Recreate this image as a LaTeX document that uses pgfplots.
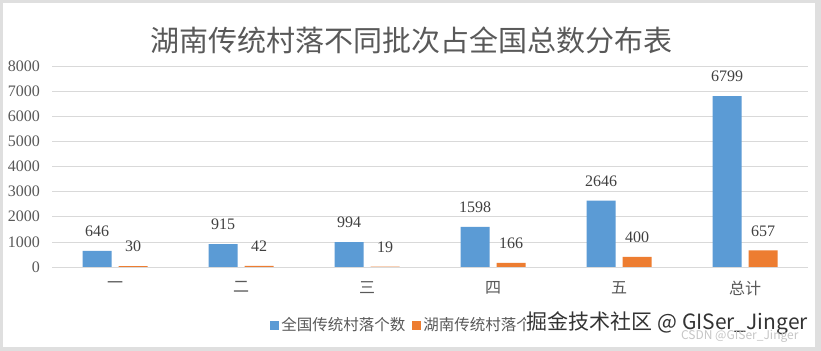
\documentclass[border=0pt]{standalone}
\usepackage{fontspec}
\usepackage{pgfplots}
\pgfplotsset{compat=1.18}
\setmainfont{Liberation Serif}
\newfontfamily\cjk{Noto Sans CJK SC}
\newfontfamily\serifnum{Liberation Serif}
\definecolor{cblue}{HTML}{5B9BD5}
\definecolor{corange}{HTML}{ED7D31}
\definecolor{txtgray}{HTML}{595959}
\definecolor{gridgray}{HTML}{D9D9D9}
\definecolor{lblgray}{HTML}{404040}
\begin{document}
\begin{tikzpicture}
\fill[gray!25] (0,0) rectangle (821bp,351bp);
\fill[white] (3bp,4bp) rectangle (815bp,348bp);
\useasboundingbox (0,0) rectangle (821bp,351bp);
\begin{axis}[
  at={(52bp,84bp)}, anchor=south west,
  scale only axis, width=756bp, height=201bp,
  xmin=-0.5, xmax=5.5, ymin=0, ymax=8000,
  ybar=7bp, bar width=29bp,
  xtick={0,...,5}, xticklabels={一,二,三,四,五,总计},
  ytick={0,1000,2000,3000,4000,5000,6000,7000,8000},
  yticklabels={0,1000,2000,3000,4000,5000,6000,7000,8000},
  scaled y ticks=false,
  /pgf/number format/1000 sep={},
  /pgf/number format/assume math mode=true,
  ymajorgrids, grid style={gridgray, line width=0.75bp},
  axis lines*=left,
  y axis line style={draw=none},
  x axis line style={draw=gridgray, line width=0.75bp, -},
  major tick length=0pt,
  tick style={draw=none},
  yticklabel style={font=\serifnum\fontsize{16bp}{19bp}\selectfont, text=txtgray, inner sep=0pt, xshift=-12bp},
  xticklabel style={font=\cjk\fontsize{16bp}{19bp}\selectfont, text=txtgray, anchor=north, inner sep=0pt, yshift=-14bp},
  nodes near coords,
  nodes near coords style={font=\serifnum\fontsize{16bp}{19bp}\selectfont, text=lblgray, anchor=south, inner sep=0pt, yshift=14bp},
  legend columns=-1,
  legend style={at={(axis description cs:0.4735,-0.2886)}, anchor=center, draw=none, fill=none,
    font=\cjk\fontsize{15.5bp}{18bp}\selectfont, text=txtgray,
    /tikz/every even column/.append style={column sep=5bp}},
]
\addplot[fill=cblue, draw=none, legend image code/.code={\fill[cblue] (0bp,-4.5bp) rectangle (9bp,4.5bp);}]
  coordinates {(0,646) (1,915) (2,994) (3,1598) (4,2646) (5,6799)};
\addplot[fill=corange, draw=none, legend image code/.code={\fill[corange] (0bp,-4.5bp) rectangle (9bp,4.5bp);}]
  coordinates {(0,30) (1,42) (2,19) (3,166) (4,400) (5,657)};
\legend{全国传统村落个数, 湖南传统村落个数}
\end{axis}
\node[font=\cjk\fontsize{29bp}{34bp}\selectfont, text=txtgray] at (411bp,311bp) {湖南传统村落不同批次占全国总数分布表};
\node[anchor=east, fill=white, inner sep=1bp, text=black!80, font=\cjk\fontsize{21bp}{25bp}\selectfont] at (809bp,28bp) {掘金技术社区 @ GISer\_Jinger};
\node[anchor=east, text=gray!45, font=\cjk\fontsize{12bp}{14bp}\selectfont] at (802bp,15bp) {CSDN @GISer\_Jinger};
\end{tikzpicture}
\end{document}
